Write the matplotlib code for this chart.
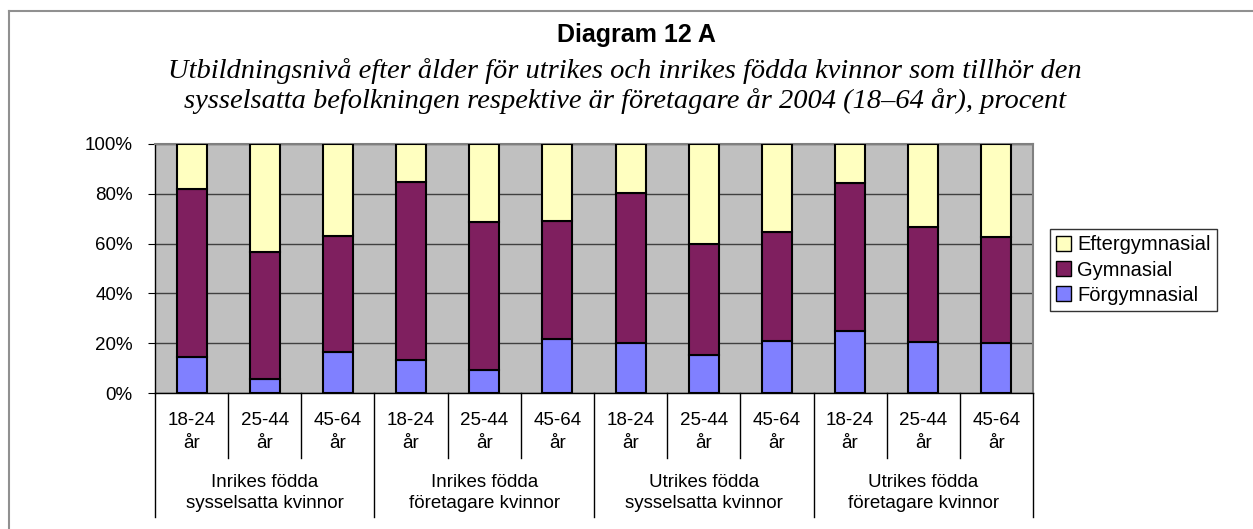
import numpy as np
import matplotlib.pyplot as plt
from matplotlib.patches import Patch
import matplotlib.transforms as mtransforms

plt.rcParams['font.family'] = ['Liberation Sans', 'DejaVu Sans']

# data (share of each education level, percent)
age_labels = ["18-24\når", "25-44\når", "45-64\når"] * 4
group_labels = ["Inrikes födda\nsysselsatta kvinnor", "Inrikes födda\nföretagare kvinnor",
                "Utrikes födda\nsysselsatta kvinnor", "Utrikes födda\nföretagare kvinnor"]
forgymnasial = [14.3, 5.7, 16.5, 13.3, 9.2, 21.8, 20.2, 15.4, 20.8, 24.8, 20.4, 20.1]
gymnasial_top = [81.9, 56.5, 63.2, 84.6, 68.8, 69.2, 80.4, 59.8, 64.5, 84.5, 66.7, 62.7]
gymnasial = [g - f for g, f in zip(gymnasial_top, forgymnasial)]
eftergymnasial = [100 - g for g in gymnasial_top]

c_forg = "#8080FF"
c_gym = "#7F1F5F"
c_efter = "#FFFFC0"

fig = plt.figure(figsize=(12.53, 5.29), dpi=100)
ax = fig.add_axes([155 / 1253, 1 - 393 / 529, 878 / 1253, 249 / 529])

x = np.arange(len(age_labels))
w = 0.41
ax.bar(x, forgymnasial, w, color=c_forg, edgecolor="black", linewidth=1.5, zorder=3)
ax.bar(x, gymnasial, w, bottom=forgymnasial, color=c_gym, edgecolor="black", linewidth=1.5, zorder=3)
ax.bar(x, eftergymnasial, w, bottom=gymnasial_top, color=c_efter, edgecolor="black", linewidth=1.5, zorder=3)

ax.set_xlim(-0.5, len(x) - 0.5)
ax.set_ylim(0, 100)
ax.set_facecolor("#C0C0C0")
ax.set_yticks(range(0, 101, 20))
ax.set_yticklabels([f"{v}%" for v in range(0, 101, 20)], fontsize=13.5)
ax.yaxis.grid(True, color="#404040", linewidth=1, zorder=0)
ax.set_xticks([])
ax.tick_params(axis="y", length=5, direction="out", color="black", pad=11)
for s in ["top", "right"]:
    ax.spines[s].set_color("#808080")
    ax.spines[s].set_linewidth(1.5)
for s in ["left", "bottom"]:
    ax.spines[s].set_color("black")
    ax.spines[s].set_linewidth(1)

# category axis below the plot
trans = mtransforms.blended_transform_factory(ax.transData, ax.transAxes)
for i in range(len(x) + 1):
    bottom = -0.498 if i % 3 == 0 else -0.261
    ax.plot([i - 0.5, i - 0.5], [0, bottom], color="black", linewidth=1,
            transform=trans, clip_on=False)
for i, lab in enumerate(age_labels):
    ax.text(i, -0.158, lab, transform=trans, ha="center", va="center",
            fontsize=13.5, linespacing=1.45)
for j, lab in enumerate(group_labels):
    ax.text(3 * j + 1, -0.402, lab, transform=trans, ha="center", va="center",
            fontsize=13.5, linespacing=1.36)

# titles
fig.text(636 / 1253, 1 - 35 / 529, "Diagram 12 A", ha="center", va="center",
         fontsize=18, fontweight="bold")
fig.text(625 / 1253, 1 - 86 / 529,
         "Utbildningsnivå efter ålder för utrikes och inrikes födda kvinnor som tillhör den\n"
         "sysselsatta befolkningen respektive är företagare år 2004 (18–64 år), procent",
         ha="center", va="center", fontsize=20.5, style="italic",
         family="Liberation Serif", linespacing=1.25)

# legend
handles = [Patch(facecolor=c_efter, edgecolor="black", label="Eftergymnasial"),
           Patch(facecolor=c_gym, edgecolor="black", label="Gymnasial"),
           Patch(facecolor=c_forg, edgecolor="black", label="Förgymnasial")]
leg = fig.legend(handles=handles, loc="center left",
                 bbox_to_anchor=(1050 / 1253, 1 - 270 / 529), fontsize=14.5,
                 frameon=True, fancybox=False, edgecolor="black",
                 handlelength=0.75, handleheight=0.75, handletextpad=0.3,
                 labelspacing=0.3, borderpad=0.3, borderaxespad=0)
leg.get_frame().set_linewidth(1)

# outer frame (top and left)
fig.add_artist(plt.Line2D([9 / 1253, 9 / 1253], [0, 1 - 11 / 529], color="#909090",
                          linewidth=1.5, transform=fig.transFigure))
fig.add_artist(plt.Line2D([9 / 1253, 1], [1 - 11 / 529, 1 - 11 / 529], color="#909090",
                          linewidth=1.5, transform=fig.transFigure))

fig.savefig("out.png", dpi=100)
